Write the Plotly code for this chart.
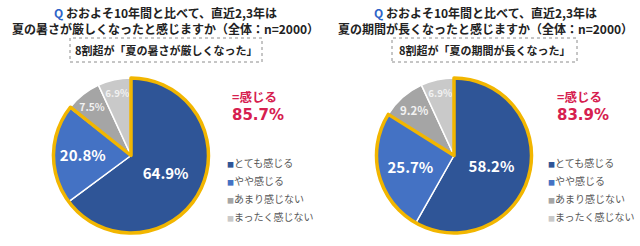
import plotly.graph_objects as go

labels = ["とても感じる", "やや感じる", "あまり感じない", "まったく感じない"]
heat_values = [64.9, 20.8, 7.5, 6.9]
summer_values = [58.2, 25.7, 9.2, 6.9]
colors = ["#2F5597", "#4472C4", "#A5A5A5", "#C9C9C9"]

q_left = ("<span style='color:#2E64C8'>Q</span> おおよそ10年間と比べて、直近2,3年は<br>"
          "夏の暑さが厳しくなったと感じますか（全体：n=2000）")
q_right = ("<span style='color:#2E64C8'>Q</span> おおよそ10年間と比べて、直近2,3年は<br>"
           "夏の期間が長くなったと感じますか（全体：n=2000）")
box_left = "8割超が「夏の暑さが厳しくなった」"
box_right = "8割超が「夏の期間が長くなった」"

W, H = 640, 246
FONT = "Noto Sans CJK JP"
GOLD = "#F2B600"
RED = "#D6204F"

fig = go.Figure()

def add_pie(values, x0, x1):
    dom = dict(x=[x0 / W, x1 / W], y=[1 - 233 / H, 1 - 78 / H])
    fig.add_trace(go.Pie(
        labels=labels, values=values, sort=False, direction="clockwise", rotation=0,
        marker=dict(colors=colors, line=dict(color="white", width=1.5)),
        texttemplate="%{value:.1f}%", textposition="inside",
        insidetextorientation="horizontal",
        textfont=dict(family=FONT, color=["white", "white", "#F2F2F2", "#F2F2F2"],
                      size=[15, 15, 11.5, 11.5], weight="bold"),
        domain=dom, showlegend=False, hoverinfo="skip",
    ))
    pos = values[0] + values[1]
    fig.add_trace(go.Pie(
        labels=["感じる", "感じない"], values=[pos, 100 - pos], sort=False,
        direction="clockwise", rotation=0,
        marker=dict(colors=["rgba(0,0,0,0)", "rgba(0,0,0,0)"],
                    line=dict(color=[GOLD, "rgba(0,0,0,0)"], width=[3.5, 0])),
        textinfo="none", showlegend=False, domain=dom, hoverinfo="skip",
    ))
    return pos

pos_l = add_pie(heat_values, 52, 210)
pos_r = add_pie(summer_values, 375, 533)

fig.update_layout(
    width=W, height=H, margin=dict(l=0, r=0, t=0, b=0),
    paper_bgcolor="white", plot_bgcolor="white", showlegend=False,
)

def header(cx, qtext, btext, bx0, bx1, rx, pos, lx):
    fig.add_annotation(x=cx / W, y=1 - 20 / H, xref="paper", yref="paper",
                       xanchor="center", yanchor="middle", borderpad=0,
                       text=qtext, showarrow=False, align="center",
                       font=dict(family=FONT, size=12, color="#222222", weight="bold"))
    fig.add_shape(type="rect", xref="paper", yref="paper",
                  x0=bx0 / W, x1=bx1 / W, y0=1 - 62 / H, y1=1 - 38 / H,
                  line=dict(color="#8C8C8C", width=1, dash="dot"))
    fig.add_annotation(x=(bx0 + bx1) / 2 / W, y=1 - 50 / H, xref="paper", yref="paper",
                       xanchor="center", yanchor="middle", borderpad=0,
                       text=btext, showarrow=False,
                       font=dict(family=FONT, size=11, color="#222222", weight="bold"))
    fig.add_annotation(x=rx / W, y=1 - 96.5 / H, xref="paper", yref="paper",
                       xanchor="left", yanchor="middle", borderpad=0,
                       text="=感じる", showarrow=False,
                       font=dict(family=FONT, size=12.5, color=RED, weight="bold"))
    fig.add_annotation(x=rx / W, y=1 - 115 / H, xref="paper", yref="paper",
                       xanchor="left", yanchor="middle", borderpad=0,
                       text=f"{pos:.1f}%", showarrow=False,
                       font=dict(family="DejaVu Sans", size=15, color=RED, weight="bold"))
    for i, (lab, col) in enumerate(zip(labels, colors)):
        fig.add_annotation(x=lx / W, y=1 - (162 + 18.3 * i) / H, xref="paper", yref="paper",
                           xanchor="left", yanchor="middle", showarrow=False, borderpad=0,
                           text=f"<span style='color:{col};font-size:7px'>■</span>{lab}",
                           font=dict(family=FONT, size=10, color="#595959"))

header(165, q_left, box_left, 70, 262, 231, pos_l, 226)
header(485, q_right, box_right, 392, 577, 556, pos_r, 547)

fig.write_html("out.html")
